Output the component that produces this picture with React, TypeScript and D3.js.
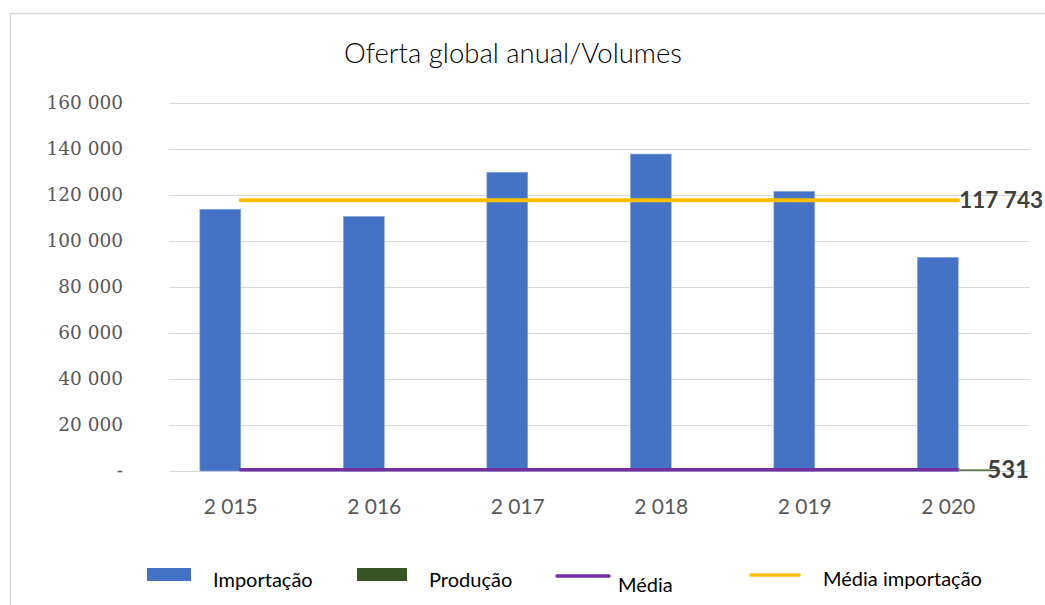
import { useEffect, useRef } from "react";
import * as d3 from "d3";

// chart data
const years = ["2 015", "2 016", "2 017", "2 018", "2 019", "2 020"];
const importacao = [113800, 110700, 129900, 137800, 121600, 92900];
const producao = [531, 531, 531, 531, 531, 531];
const media = [531, 531, 531, 531, 531, 531];
const mediaImportacao = [117743, 117743, 117743, 117743, 117743, 117743];
const yTicks = [0, 20000, 40000, 60000, 80000, 100000, 120000, 140000, 160000];

const W = 1045;
const H = 605;

const fmt = (v: number) => (v === 0 ? "-" : d3.format(",")(v).replace(/,/g, " "));

const App = () => {
  const svgRef = useRef<SVGSVGElement>(null);

  useEffect(() => {
    const svg = d3.select(svgRef.current);
    svg.selectAll("*").remove();

    const margin = { top: 103, right: 15, bottom: 134, left: 169 };
    const sans = "Lato, 'Open Sans', sans-serif";

    // chart frame
    svg.append("rect").attr("width", W).attr("height", H).attr("fill", "#fff");
    svg.append("path")
      .attr("d", `M10.5,${H} V13.5 H${W}`)
      .attr("fill", "none")
      .attr("stroke", "#d9d9d9")
      .attr("stroke-width", 1.5);

    svg.append("text")
      .attr("x", 513)
      .attr("y", 63)
      .attr("text-anchor", "middle")
      .style("font-family", sans)
      .style("font-size", "27.5px")
      .style("font-weight", 300)
      .style("fill", "#000")
      .text("Oferta global anual/Volumes");

    const x = d3.scaleBand()
      .domain(years)
      .range([margin.left, W - margin.right])
      .paddingInner(0.43)
      .paddingOuter(0.215);

    const xs = d3.scaleBand()
      .domain(["imp", "prod"])
      .range([0, x.bandwidth()]);

    const y = d3.scaleLinear()
      .domain([0, 160000])
      .range([H - margin.bottom, margin.top]);

    // grid + y axis
    svg.append("g")
      .attr("transform", `translate(${margin.left},0)`)
      .call(d3.axisLeft(y).tickValues(yTicks).tickSize(0).tickPadding(46).tickFormat(d => fmt(+d)))
      .call(g => g.select(".domain").remove())
      .call(g => g.selectAll(".tick line").clone()
        .attr("x2", W - margin.left - margin.right)
        .attr("stroke", "#d9d9d9")
        .attr("stroke-width", 1.2))
      .call(g => g.selectAll(".tick text")
        .style("font-family", "'DejaVu Serif', serif")
        .style("font-size", "18.5px")
        .style("fill", "#595959"));

    // x axis labels
    svg.append("g")
      .attr("transform", `translate(0,${H - margin.bottom})`)
      .call(d3.axisBottom(x).tickSize(0).tickPadding(28))
      .call(g => g.select(".domain").remove())
      .call(g => g.selectAll(".tick text")
        .attr("dx", -10)
        .style("font-family", sans)
        .style("font-size", "21px")
        .style("fill", "#595959"));

    // bars
    svg.append("g")
      .selectAll("rect.imp")
      .data(importacao)
      .join("rect")
      .attr("class", "imp")
      .attr("x", (d, i) => x(years[i])! + xs("imp")!)
      .attr("y", d => y(d))
      .attr("width", xs.bandwidth())
      .attr("height", d => y(0) - y(d))
      .attr("fill", "#4472c4")
      .attr("stroke", "#8eaadb")
      .attr("stroke-width", 0.6);

    svg.append("g")
      .selectAll("rect.prod")
      .data(producao)
      .join("rect")
      .attr("class", "prod")
      .attr("x", (d, i) => x(years[i])! + xs("prod")!)
      .attr("y", d => y(d))
      .attr("width", xs.bandwidth())
      .attr("height", d => y(0) - y(d))
      .attr("fill", "#375623");

    // lines
    const cx = (i: number) => x(years[i])! + x.bandwidth() / 2;
    const line = d3.line<number>().x((d, i) => cx(i)).y(d => y(d));

    svg.append("path")
      .datum(media)
      .attr("d", line)
      .attr("fill", "none")
      .attr("stroke", "#7030a0")
      .attr("stroke-width", 3.5)
      .attr("stroke-linecap", "round");

    svg.append("path")
      .datum(mediaImportacao)
      .attr("d", line)
      .attr("fill", "none")
      .attr("stroke", "#ffc000")
      .attr("stroke-width", 4)
      .attr("stroke-linecap", "round");

    // data labels
    const last = years.length - 1;
    svg.append("line")
      .attr("x1", cx(last))
      .attr("x2", cx(last) + 32)
      .attr("y1", y(media[last]))
      .attr("y2", y(media[last]))
      .attr("stroke", "#85a07a")
      .attr("stroke-width", 1.5);

    svg.append("text")
      .attr("x", cx(last) + 29)
      .attr("y", y(media[last]))
      .attr("dy", "0.36em")
      .style("font-family", sans)
      .style("font-size", "24px")
      .style("font-weight", "bold")
      .style("fill", "#404040")
      .text(fmt(media[last]));

    svg.append("text")
      .attr("x", cx(last) + 1)
      .attr("y", y(mediaImportacao[last]))
      .attr("dy", "0.36em")
      .style("font-family", sans)
      .style("font-size", "22.5px")
      .style("font-weight", "bold")
      .style("fill", "#404040")
      .text(fmt(mediaImportacao[last]));

    // legend
    const legend = svg.append("g").style("font-family", sans).style("font-size", "20px").style("fill", "#000");
    legend.append("rect").attr("x", 147).attr("y", 568).attr("width", 44).attr("height", 13).attr("fill", "#4472c4");
    legend.append("text").attr("x", 213).attr("y", 587).text("Importação");
    legend.append("rect").attr("x", 357).attr("y", 568).attr("width", 50).attr("height", 13).attr("fill", "#375623");
    legend.append("text").attr("x", 429).attr("y", 587).text("Produção");
    legend.append("line").attr("x1", 557).attr("x2", 609).attr("y1", 576).attr("y2", 576)
      .attr("stroke", "#7030a0").attr("stroke-width", 3.5).attr("stroke-linecap", "round");
    legend.append("text").attr("x", 618).attr("y", 592).text("Média");
    legend.append("line").attr("x1", 751).attr("x2", 799).attr("y1", 575).attr("y2", 575)
      .attr("stroke", "#ffc000").attr("stroke-width", 3.5).attr("stroke-linecap", "round");
    legend.append("text").attr("x", 823).attr("y", 586).text("Média importação");

    return () => {
      svg.selectAll("*").remove();
    };
  }, []);

  return (
    <div style={{ position: "absolute", left: 0, top: 0, width: W, height: H, overflow: "hidden" }}>
      <svg ref={svgRef} width={W} height={H} style={{ display: "block" }}></svg>
    </div>
  );
};

export default App;
